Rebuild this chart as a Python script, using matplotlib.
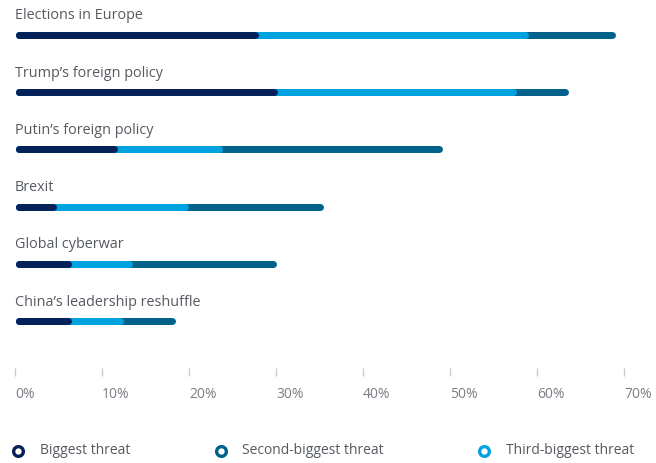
import matplotlib
matplotlib.use("Agg")
import matplotlib.pyplot as plt
from matplotlib.lines import Line2D

# Share of respondents naming each issue as a geopolitical threat (%)
categories = [
    "Elections in Europe",
    "Trump\u2019s foreign policy",
    "Putin\u2019s foreign policy",
    "Brexit",
    "Global cyberwar",
    "China\u2019s leadership reshuffle",
]
biggest = [28, 30.2, 11.8, 4.8, 6.5, 6.5]
third_biggest = [31, 27.4, 12, 15.2, 7, 6]
second_biggest = [10, 6, 25.3, 15.5, 16.5, 6]

series_names = ["Biggest threat", "Second-biggest threat", "Third-biggest threat"]
tick_values = [0, 10, 20, 30, 40, 50, 60, 70]
tick_labels = ["0%", "10%", "20%", "30%", "40%", "50%", "60%", "70%"]

NAVY = "#04215a"
TEAL = "#00628a"
CYAN = "#00a2e0"
TEXT = "#555a60"
TICK_TEXT = "#7a7f85"

FONT = ["Open Sans", "DejaVu Sans"]
plt.rcParams["font.family"] = FONT

W, H = 656, 463
fig = plt.figure(figsize=(W / 100, H / 100), dpi=100)

x0_px, x1_px = 15, 624
axis_px = 376
ax = fig.add_axes([x0_px / W, (H - axis_px) / H, (x1_px - x0_px) / W, axis_px / H])
ax.set_xlim(0, 70)
ax.set_ylim(axis_px, 0)  # vertical positions in pixels from the top

bar_lw_px = 7.0
px_per_unit = (x1_px - x0_px) / 70
r = (bar_lw_px / 2) / px_per_unit  # round-cap radius in data units

row0, row_step = 34.7, 57.3
for i, cat in enumerate(categories):
    y = row0 + row_step * i
    end1 = biggest[i]
    end2 = end1 + third_biggest[i]
    end3 = end2 + second_biggest[i]
    for end, col in ((end3, TEAL), (end2, CYAN), (end1, NAVY)):
        ax.plot([r, end - r], [y, y], color=col, lw=bar_lw_px * 0.72,
                solid_capstyle="round", zorder=3)
    ax.text(0, y - 15.4, cat, ha="left", va="baseline", fontsize=10.4,
            color=TEXT)

for s in ax.spines.values():
    s.set_visible(False)
ax.set_yticks([])
ax.set_xticks(tick_values)
ax.set_xticklabels(tick_labels)
ax.tick_params(axis="x", direction="in", length=6, width=1, color="#c9cbce",
               pad=8, labelsize=10, labelcolor=TICK_TEXT)
for lab in ax.get_xticklabels():
    lab.set_horizontalalignment("left")

# legend row
legend_y = 1 - 451 / H
for (mx, tx), name, col in zip(((17.5, 40), (221, 242), (484, 506)),
                               series_names, (NAVY, TEAL, CYAN)):
    fig.add_artist(Line2D([mx / W], [legend_y], transform=fig.transFigure,
                          marker="o", markersize=7, markerfacecolor="white",
                          markeredgecolor=col, markeredgewidth=2.4,
                          linestyle="none"))
    fig.text(tx / W, legend_y, name, ha="left", va="center", fontsize=10,
             color=TEXT)

fig.savefig("out.png", dpi=100, facecolor="white")
